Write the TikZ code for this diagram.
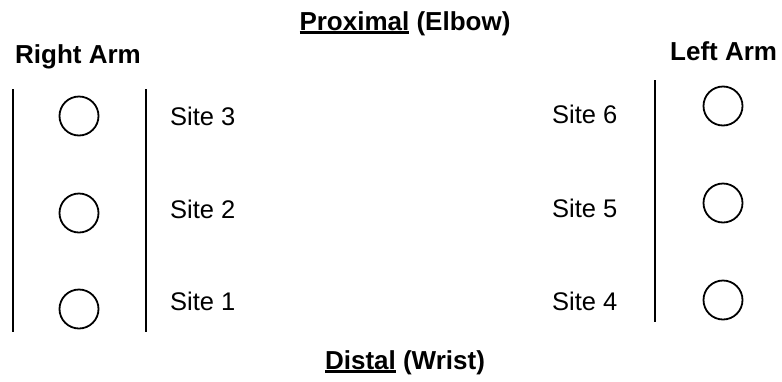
\documentclass[tikz,border=0pt]{standalone}
\usepackage{fontspec}
\setmainfont{Liberation Sans}
% bold heading with a thick underline under part of it
\newcommand\thickul[1]{\setbox0\hbox{#1}\rlap{\rule[-3.5pt]{\wd0}{2.2pt}}\box0\relax}
\tikzset{
  site/.style={inner sep=0pt, font=\fontsize{25.5}{28}\selectfont},
  heading/.style={inner sep=0pt, font=\fontsize{26}{29}\selectfont\bfseries},
  bar/.style={line width=2pt},
  pad/.style={draw, line width=1.8pt, circle, minimum size=39pt, inner sep=0pt},
}
\begin{document}
\begin{tikzpicture}[x=1pt,y=-1pt]
\useasboundingbox (0,0) rectangle (782,381);

% headings
\node[heading, anchor=base] (prox) at (405,30) {\thickul{Proximal} (Elbow)};
\node[heading, anchor=base] (dist) at (405,369) {\thickul{Distal} (Wrist)};
\node[heading, anchor=base west] (rarm) at (15,63) {Right Arm};
\node[heading, anchor=base west] (larm) at (670,60) {Left Arm};

% right arm
\coordinate (r1t) at (13,89);  \coordinate (r1b) at (13,332);
\coordinate (r2t) at (146,89); \coordinate (r2b) at (146,332);
\draw[bar] (r1t) -- (r1b);
\draw[bar] (r2t) -- (r2b);
\node[pad] (c3) at (79,116) {};
\node[pad] (c2) at (79,213) {};
\node[pad] (c1) at (79,309) {};
\node[site, anchor=base west] (s3) at (170,125) {Site 3};
\node[site, anchor=base west] (s2) at (170,218) {Site 2};
\node[site, anchor=base west] (s1) at (170,310) {Site 1};

% left arm
\coordinate (l1t) at (655,80); \coordinate (l1b) at (655,322);
\draw[bar] (l1t) -- (l1b);
\node[pad] (c6) at (723,106) {};
\node[pad] (c5) at (723,203) {};
\node[pad] (c4) at (723,300) {};
\node[site, anchor=base west] (s6) at (552,123) {Site 6};
\node[site, anchor=base west] (s5) at (552,217) {Site 5};
\node[site, anchor=base west] (s4) at (552,310) {Site 4};
\end{tikzpicture}
\end{document}
